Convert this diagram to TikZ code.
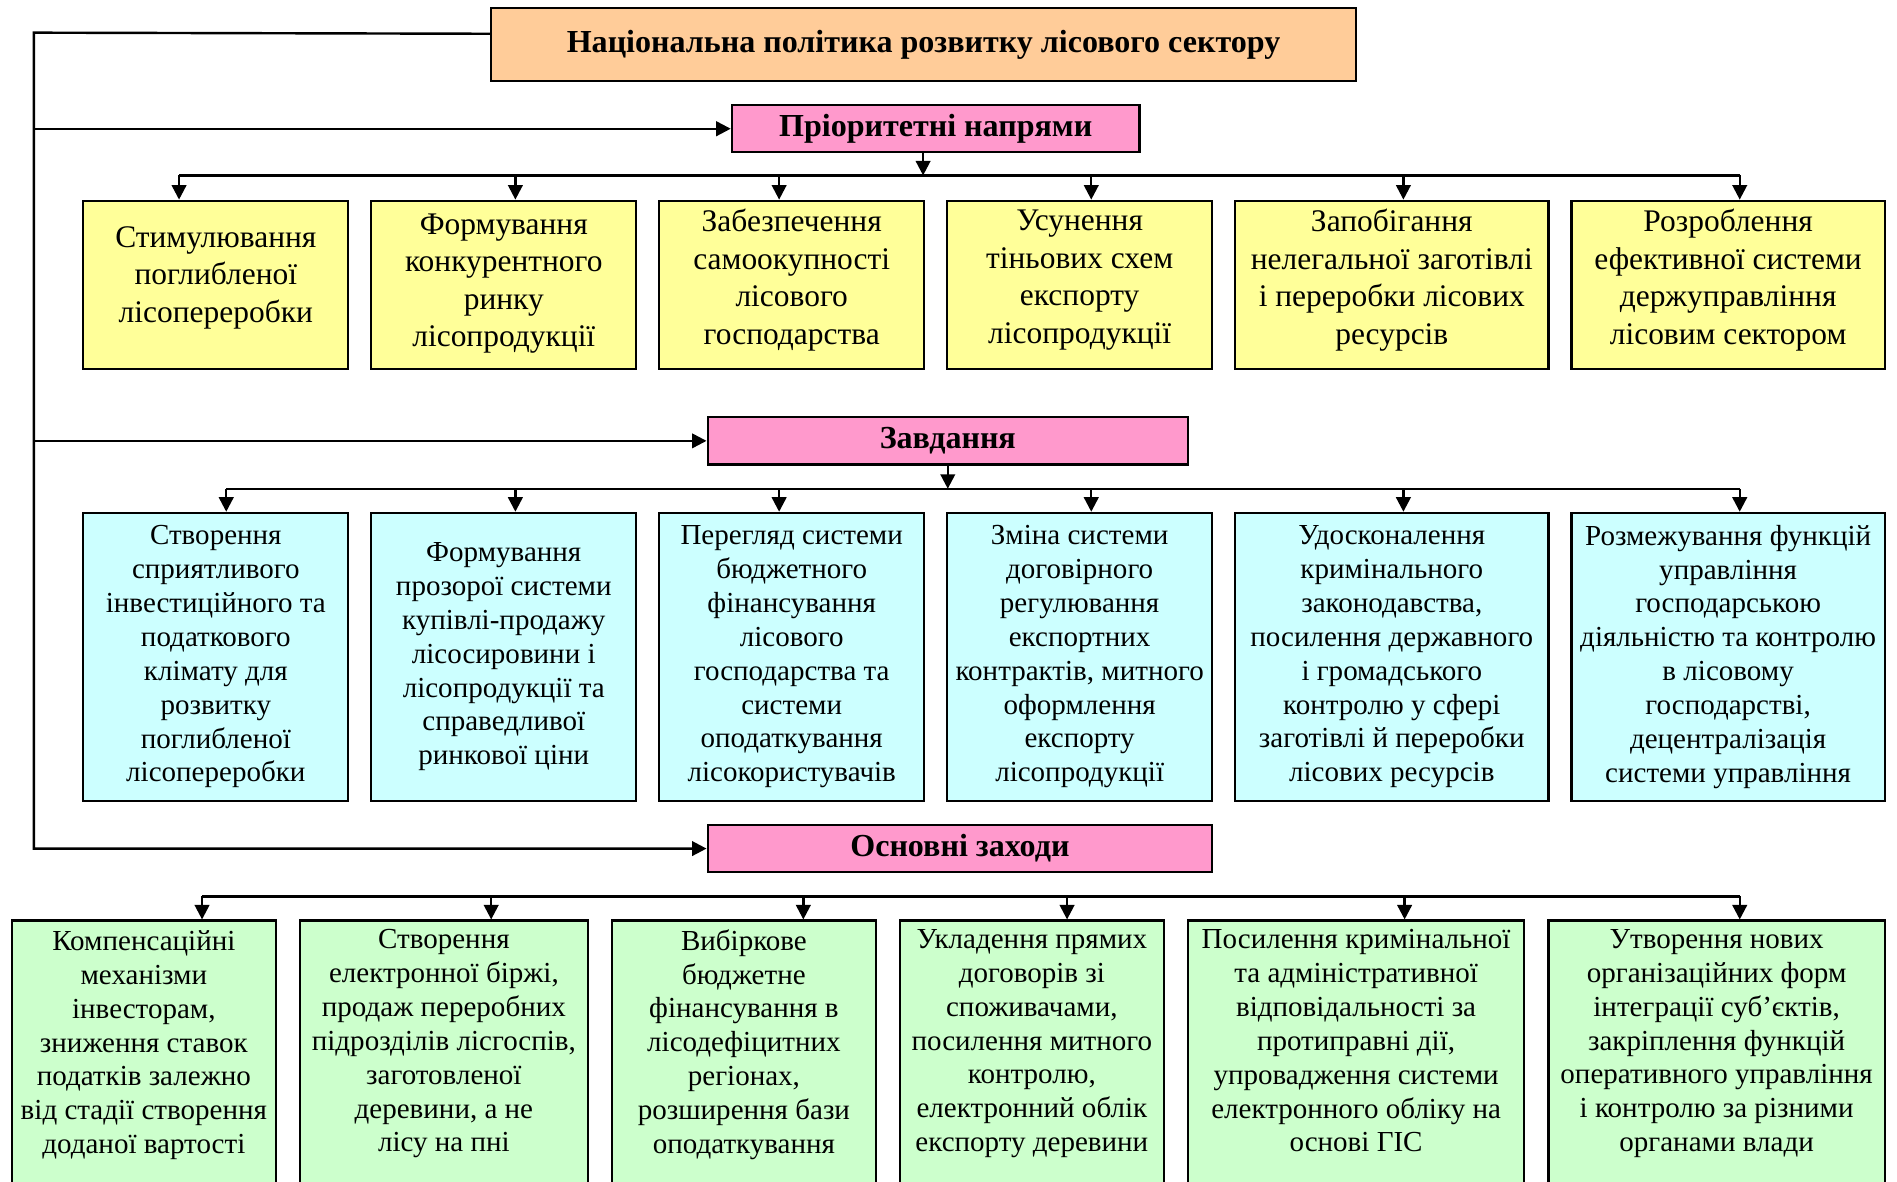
\documentclass[tikz,border=0pt]{standalone}
\usepackage{fontspec}
\setmainfont{Liberation Serif}
\usetikzlibrary{arrows.meta}
\definecolor{peach}{HTML}{FFCC99}
\definecolor{rosebox}{HTML}{FF99CC}
\definecolor{lemon}{HTML}{FFFF99}
\definecolor{aqua}{HTML}{CCFFFF}
\definecolor{mint}{HTML}{CCFFCC}
\begin{document}
\begin{tikzpicture}[x=1pt,y=-1pt,
  box/.style={draw=black,line width=1.8pt,inner sep=0pt,anchor=north west,align=center},
  headbox/.style={box,fill=rosebox,minimum height=39pt,font=\fontsize{26.5}{31}\selectfont\bfseries},
  dirbox/.style={box,fill=lemon,minimum height=139pt},
  dirtext/.style={inner sep=0pt,align=center,font=\fontsize{26}{31}\selectfont},
  taskbox/.style={box,fill=aqua,minimum height=238pt,font=\fontsize{24}{28}\selectfont},
  measbox/.style={box,fill=mint,minimum height=260pt},
  meastext/.style={inner sep=0pt,anchor=north,align=center,font=\fontsize{24}{28}\selectfont},
  conn/.style={line width=2pt},
  arr/.style={line width=2pt,-{Triangle[length=12pt,width=12pt]}}
]
\useasboundingbox (0,0) rectangle (1568,977);

% --- top level and section headers ---
\node[headbox,fill=peach,minimum width=715pt,minimum height=60pt] (top) at (405,6)
  {Національна політика розвитку лісового сектору};
\node[headbox,minimum width=337pt] (phead) at (604,86) {Пріоритетні напрями};
\node[headbox,minimum width=397pt] (thead) at (584,344) {Завдання};
\node[headbox,minimum width=417pt] (mhead) at (584,681) {Основні заходи};

% --- left trunk feeding the three sections ---
\coordinate (t0) at (28,27);
\draw[arr] ([yshift=9pt]top.west) -- (t0) |- (mhead.west);
\draw[arr] (t0 |- phead.west) -- (phead.west);
\draw[arr] (t0 |- thead.west) -- (thead.west);

% --- priority directions ---
\node[dirbox,minimum width=219pt] (p1) at (68,165) {};
\node[dirbox,minimum width=219pt] (p2) at (306,165) {};
\node[dirbox,minimum width=219pt] (p3) at (544,165) {};
\node[dirbox,minimum width=219pt] (p4) at (782,165) {};
\node[dirbox,minimum width=259pt] (p5) at (1020,165) {};
\node[dirbox,minimum width=259pt] (p6) at (1298,165) {};
\node[dirtext] (p1t) at ([yshift=6pt]p1.center) {Стимулювання\\поглибленої\\лісопереробки};
\node[dirtext] (p2t) at ([yshift=1pt]p2.center) {Формування\\конкурентного\\ринку\\лісопродукції};
\node[dirtext] (p3t) at ([yshift=4pt]p3.center) {Забезпечення\\самоокупності\\лісового\\господарства};
\node[dirtext] (p4t) at ([yshift=4pt]p4.center) {Усунення\\тіньових схем\\експорту\\лісопродукції};
\node[dirtext] (p5t) at ([yshift=4pt]p5.center) {Запобігання\\нелегальної заготівлі\\і переробки лісових\\ресурсів};
\node[dirtext] (p6t) at ([yshift=4pt]p6.center) {Розроблення\\ефективної системи\\держуправління\\лісовим сектором};

\coordinate (pa1) at (148,145);
\coordinate (pa2) at (426,145);
\coordinate (pa3) at (644,145);
\coordinate (pa4) at (902,145);
\coordinate (pa5) at (1160,145);
\coordinate (pa6) at (1438,145);
\coordinate (pin) at (763,145);
\draw[arr] (pin |- phead.south) -- (pin);
\draw[conn] (pa1) -- (pa6);
\foreach \i in {1,...,6} \draw[arr] (pa\i) -- (pa\i |- p\i.north);

% --- tasks ---
\node[taskbox,minimum width=219pt] (t1) at (68,423) {Створення\\сприятливого\\інвестиційного та\\податкового\\клімату для\\розвитку\\поглибленої\\лісопереробки};
\node[taskbox,minimum width=219pt] (t2) at (306,423) {Формування\\прозорої системи\\купівлі-продажу\\лісосировини і\\лісопродукції та\\справедливої\\ринкової ціни};
\node[taskbox,minimum width=219pt] (t3) at (544,423) {Перегляд системи\\бюджетного\\фінансування\\лісового\\господарства та\\системи\\оподаткування\\лісокористувачів};
\node[taskbox,minimum width=219pt] (t4) at (782,423) {Зміна системи\\договірного\\регулювання\\експортних\\контрактів, митного\\оформлення\\експорту\\лісопродукції};
\node[taskbox,minimum width=259pt] (t5) at (1020,423) {Удосконалення\\кримінального\\законодавства,\\посилення державного\\і громадського\\контролю у сфері\\заготівлі й переробки\\лісових ресурсів};
\node[taskbox,minimum width=259pt] (t6) at (1298,423) {Розмежування функцій\\управління\\господарською\\діяльністю та контролю\\в лісовому\\господарстві,\\децентралізація\\системи управління};

\coordinate (ta1) at (187,404);
\coordinate (ta2) at (426,404);
\coordinate (ta3) at (644,404);
\coordinate (ta4) at (902,404);
\coordinate (ta5) at (1160,404);
\coordinate (ta6) at (1438,404);
\draw[arr] (thead.south) -- (thead.south |- ta1);
\draw[conn] (ta1) -- (ta6);
\foreach \i in {1,...,6} \draw[arr] (ta\i) -- (ta\i |- t\i.north);

% --- main measures ---
\node[measbox,minimum width=218pt] (m1) at (9,760) {};
\node[measbox,minimum width=238pt] (m2) at (247,760) {};
\node[measbox,minimum width=218pt] (m3) at (505,760) {};
\node[measbox,minimum width=218pt] (m4) at (743,760) {};
\node[measbox,minimum width=278pt] (m5) at (981,760) {};
\node[measbox,minimum width=278pt] (m6) at (1279,760) {};

\node[meastext] (m1t) at ([yshift=-9pt]m1.north) {Компенсаційні\\механізми\\інвесторам,\\зниження ставок\\податків залежно\\від стадії створення\\доданої вартості};
\node[meastext] (m2t) at ([yshift=-8pt]m2.north) {Створення\\електронної біржі,\\продаж переробних\\підрозділів лісгоспів,\\заготовленої\\деревини, а не\\лісу на пні};
\node[meastext] (m3t) at ([yshift=-8pt]m3.north) {Вибіркове\\бюджетне\\фінансування в\\лісодефіцитних\\регіонах,\\розширення бази\\оподаткування};
\node[meastext] (m4t) at ([yshift=-8pt]m4.north) {Укладення прямих\\договорів зі\\споживачами,\\посилення митного\\контролю,\\електронний облік\\експорту деревини};
\node[meastext] (m5t) at ([yshift=-8pt]m5.north) {Посилення кримінальної\\та адміністративної\\відповідальності за\\протиправні дії,\\упровадження системи\\електронного обліку на\\основі ГІС};
\node[meastext] (m6t) at ([yshift=-8pt]m6.north) {Утворення нових\\організаційних форм\\інтеграції суб’єктів,\\закріплення функцій\\оперативного управління\\і контролю за різними\\органами влади};

\coordinate (ma1) at (167,741);
\coordinate (ma2) at (406,741);
\coordinate (ma3) at (664,741);
\coordinate (ma4) at (882,741);
\coordinate (ma5) at (1161,741);
\coordinate (ma6) at (1438,741);
\draw[conn] (ma1) -- (ma6);
\foreach \i in {1,...,6} \draw[arr] (ma\i) -- (ma\i |- m\i.north);
\end{tikzpicture}
\end{document}
